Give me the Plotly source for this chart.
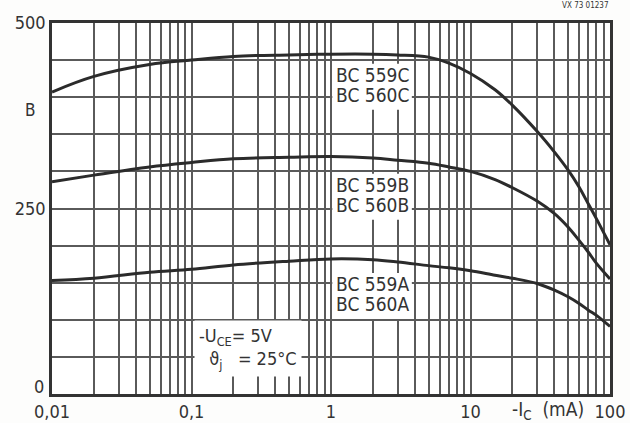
import math
import plotly.graph_objects as go

# Collector current -I_C (mA)
current_ma = [0.01, 0.02, 0.05, 0.1, 0.2, 0.5, 1, 2, 3, 5, 7, 10, 15, 20, 30, 40, 50, 60, 70, 80, 100]
# DC current gain B for each group
gain_c = [407, 428, 444, 450, 455, 457, 458, 458, 457, 454, 446, 432, 410, 389, 354, 326, 302, 279, 256, 236, 201]
gain_b = [286, 295, 306, 312, 317, 319, 320, 318, 315, 311, 306, 300, 289, 278, 260, 243, 225, 207, 191, 176, 155]
gain_a = [153, 156, 164, 168, 174, 179, 182, 181, 178, 173, 170, 166, 160, 156, 149, 140, 131, 122, 113, 106, 91]

x_ticks = [m * 10 ** e for e in range(-2, 2) for m in range(1, 10)] + [100]
x_labels = {0.01: "0,01", 0.1: "0,1", 1: "1", 10: "10", 100: "100"}
y_ticks = list(range(0, 501, 50))
y_labels = {250: "250", 500: "500"}

# type-group labels: (first line, second line, centre current, centre gain)
group_labels = [("BC 559C", "BC 560C", 1.97, 416),
                ("BC 559B", "BC 560B", 1.97, 268),
                ("BC 559A", "BC 560A", 1.97, 134)]

FONT = "DejaVu Sans Condensed, DejaVu Sans, Arial, sans-serif"
INK = "#333333"
GRID = "#5a5a5a"

fig = go.Figure()
for g in (gain_c, gain_b, gain_a):
    fig.add_trace(go.Scatter(x=current_ma, y=g, mode="lines",
                             line=dict(color="#2b2b2b", width=3, shape="spline", smoothing=1.0),
                             showlegend=False, hoverinfo="skip"))

def xt(v):
    for k, s in x_labels.items():
        if abs(v - k) < 1e-9:
            return s
    return ""

fig.update_xaxes(type="log", range=[-2, 2], tickvals=x_ticks, ticktext=[xt(v) for v in x_ticks],
                 showgrid=True, gridcolor=GRID, gridwidth=1.5, zeroline=False, automargin=False,
                 showline=True, linecolor="#333", linewidth=2.5, mirror=True, ticks="",
                 tickfont=dict(family=FONT, size=18, color=INK))
fig.update_yaxes(range=[0, 500], tickvals=y_ticks, ticktext=[y_labels.get(v, "") for v in y_ticks],
                 showgrid=True, gridcolor=GRID, gridwidth=1.5, zeroline=False, automargin=False,
                 showline=True, linecolor="#333", linewidth=2.5, mirror=True, ticks="",
                 tickfont=dict(family=FONT, size=18, color=INK))

ann_font = dict(family=FONT, size=19, color=INK)
half_w = 0.285   # half box width in decades
for l1, l2, xc, yc in group_labels:
    lx = math.log10(xc)
    fig.add_shape(type="rect", xref="x", yref="y", layer="above",
                  x0=10 ** (lx - half_w), x1=10 ** (lx + half_w), y0=yc - 33, y1=yc + 29,
                  fillcolor="white", line=dict(width=0))
    fig.add_annotation(x=lx, y=yc + 14, xref="x", yref="y", text=l1, showarrow=False, font=ann_font)
    fig.add_annotation(x=lx, y=yc - 13, xref="x", yref="y", text=l2, showarrow=False, font=ann_font)

fig.add_annotation(x=math.log10(0.254), y=62, xref="x", yref="y",
                   text="-U<sub>CE</sub>= 5V<br>  ϑ<sub>j</sub>   = 25°C", showarrow=False,
                   font=dict(family=FONT, size=18, color=INK), bgcolor="white", borderpad=4, align="left")

fig.add_annotation(x=0, y=0, xref="paper", yref="y", text="0", showarrow=False, xanchor="right",
                   xshift=-6, yshift=8, font=dict(family=FONT, size=18, color=INK))
fig.add_annotation(x=-0.039, y=0.765, xref="paper", yref="paper", text="B", showarrow=False,
                   xanchor="center", yanchor="middle", font=dict(family=FONT, size=17, color=INK))
fig.add_annotation(x=0.82, y=-0.045, xref="paper", yref="paper", text="-I<sub>C</sub>  (mA)", showarrow=False,
                   xanchor="left", font=dict(family=FONT, size=19, color=INK), yanchor="middle")
fig.add_annotation(x=1.0, y=1.03, xref="paper", yref="paper", text="VX 73 01237", showarrow=False,
                   xanchor="right", yanchor="bottom", font=dict(family=FONT, size=8, color=INK))

fig.update_layout(width=630, height=423, margin=dict(l=52, r=20, t=23, b=29),
                  paper_bgcolor="#fdfdfc", plot_bgcolor="white", showlegend=False)
fig.write_html("out.html", config={"displayModeBar": False},
               post_script="document.body.style.margin='0';")
